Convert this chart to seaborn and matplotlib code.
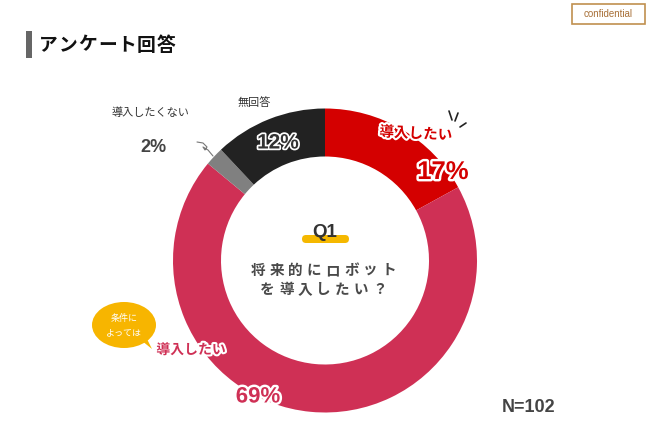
import matplotlib
matplotlib.use("Agg")
import matplotlib.pyplot as plt
import matplotlib.patheffects as pe
from matplotlib.patches import Ellipse, FancyBboxPatch, Polygon, Rectangle
import seaborn as sns

sns.set_theme(style="white")
plt.rcParams['font.family'] = ['Noto Sans CJK JP', 'DejaVu Sans']

# ---- data ----
categories = ["導入したい", "条件によっては導入したい", "導入したくない", "無回答"]
values = [17, 69, 2, 12]
pct_labels = ["17%", "69%", "2%", "12%"]
colors = ["#D40000", "#CF3055", "#808080", "#222222"]
title = "アンケート回答"
question = ["将来的にロボット", "を導入したい？"]
n_label = "N=102"

W, H = 650, 443
fig = plt.figure(figsize=(W / 100, H / 100), dpi=100)
fig.patch.set_facecolor("white")
ax = fig.add_axes([0, 0, 1, 1])


def Y(y):
    return H - y


cx, cy, R, ring = 325, 260.5, 152, 48
ax.pie(values, colors=colors, startangle=90, counterclock=False,
       radius=R, center=(cx, Y(cy)),
       wedgeprops=dict(width=ring, linewidth=0))
ax.set_xlim(0, W)
ax.set_ylim(0, H)
ax.set_aspect("equal")
ax.axis("off")

num_font = ['Liberation Sans', 'Noto Sans CJK JP']
white_stroke = [pe.withStroke(linewidth=3, foreground="white")]

# title
ax.add_patch(Rectangle((26, Y(58)), 6, 27, color="#666666", lw=0))
for i, ch in enumerate(title):
    ax.text(39 + i * 19.6, Y(45), ch, fontsize=13.5, fontweight="bold",
            color="#111111", ha="left", va="center")

# confidential box
ax.add_patch(Rectangle((572, Y(24)), 73, 20, fill=False,
                       edgecolor="#C0904F", lw=1.2))
ax.text(608.5, Y(14), "confidential", fontsize=7, color="#A87038",
        family=num_font, ha="center", va="center")

# 導入したい (17%)
ax.text(416, Y(133), categories[0], fontsize=10.5, fontweight="bold",
        color=colors[0], ha="center", va="center", rotation=-3,
        path_effects=white_stroke)
ax.text(443, Y(172), pct_labels[0], fontsize=18.5, fontweight="bold",
        color=colors[0], ha="center", va="center", family=num_font,
        path_effects=[pe.withStroke(linewidth=3.5, foreground="white")])
# burst lines
for (x1, y1, x2, y2) in [(449, 111, 452, 120), (458, 113, 455, 121),
                         (466, 123, 460, 127)]:
    ax.plot([x1, x2], [Y(y1), Y(y2)], color="#222222", lw=1.2,
            solid_capstyle="round")

# 無回答 (12%)
ax.text(254, Y(103), categories[3], fontsize=8, color="#333333",
        ha="center", va="center")
ax.text(278, Y(143), pct_labels[3], fontsize=15, fontweight="bold",
        color="#333333", ha="center", va="center", family=num_font,
        path_effects=[pe.withStroke(linewidth=2.5, foreground="white")])

# 導入したくない (2%)
ax.text(150, Y(113), categories[2], fontsize=8, color="#333333",
        ha="center", va="center")
ax.text(153, Y(147), pct_labels[2], fontsize=13, fontweight="bold",
        color="#444444", ha="center", va="center", family=num_font)
# curly arrow
ax.plot([197, 203, 207, 205, 203, 208, 213],
        [Y(142), Y(143), Y(147), Y(150), Y(147), Y(150), Y(156)],
        color="#777777", lw=0.8)

# center question
ax.add_patch(FancyBboxPatch((302, Y(243)), 47, 8,
                            boxstyle="round,pad=0,rounding_size=4",
                            color="#F5B800", lw=0))
ax.text(325, Y(232), "Q1", fontsize=13.5, fontweight="bold", color="#333333",
        ha="center", va="center", family=num_font)
for j, line in enumerate(question):
    n = len(line)
    step = 18.6
    x0 = 323.5 - (n - 1) * step / 2
    for i, ch in enumerate(line):
        ax.text(x0 + i * step, Y(270 + j * 19), ch, fontsize=10.5,
                fontweight="bold", color="#4a4a4a", ha="center", va="center")

# speech bubble
ax.add_patch(Polygon([(136, Y(336)), (152, Y(349)), (143, Y(331))],
                     closed=True, color="#F7B500", lw=0))
ax.add_patch(Ellipse((124, Y(325)), 64, 46, color="#F7B500", lw=0))
ax.text(124, Y(318), "条件に", fontsize=6.5, color="white",
        ha="center", va="center")
ax.text(124, Y(333), "よっては", fontsize=6.5, color="white",
        ha="center", va="center")

# 導入したい (69%)
ax.text(191, Y(350), categories[0], fontsize=10, fontweight="bold",
        color=colors[1], ha="center", va="center",
        path_effects=white_stroke)
ax.text(258, Y(397), pct_labels[1], fontsize=16, fontweight="bold",
        color=colors[1], ha="center", va="center", family=num_font,
        path_effects=[pe.withStroke(linewidth=3.5, foreground="white")])

# N
ax.text(529, Y(407), n_label, fontsize=13, fontweight="bold",
        color="#444444", ha="center", va="center", family=num_font)

fig.savefig("out.png", dpi=100, facecolor="white")
